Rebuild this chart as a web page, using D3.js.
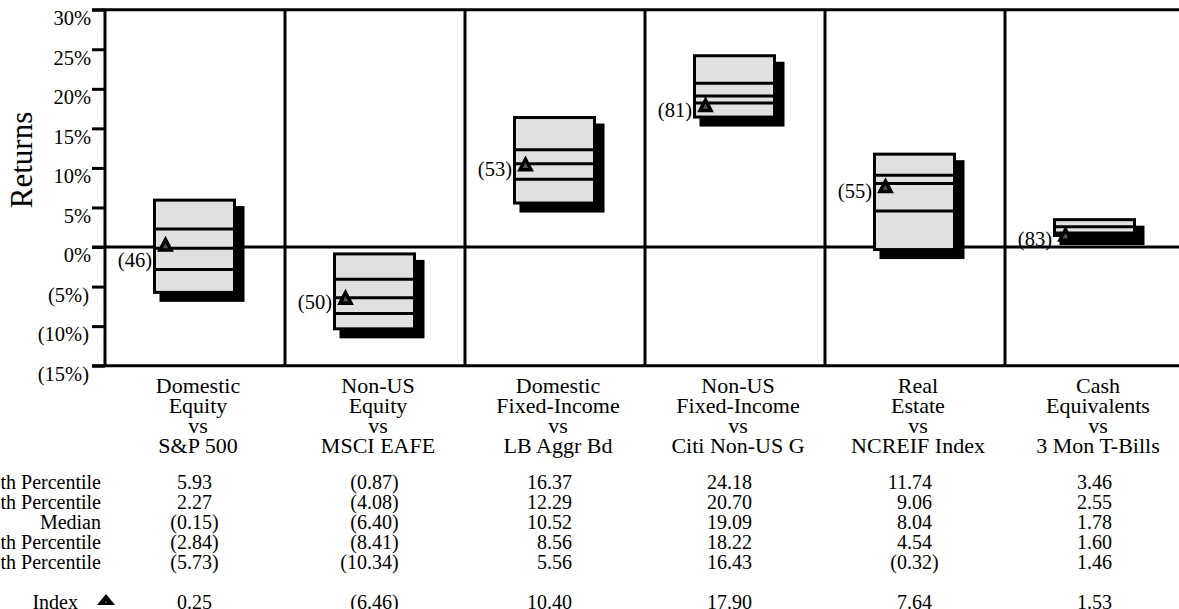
<!DOCTYPE html>
<html>
<head>
<meta charset="utf-8">
<script src="https://cdn.jsdelivr.net/npm/d3@7"></script>
<style>
  body { margin: 0; background: #fff; }
  svg { display: block; }
  text { font-family: "Liberation Serif", "Times New Roman", serif; fill: #000; }
</style>
</head>
<body>
<svg id="chart" width="1179" height="609"></svg>
<script>
// Asset classes and their benchmarks
const categories = ["Domestic Equity", "Non-US Equity", "Domestic Fixed-Income", "Non-US Fixed-Income", "Real Estate", "Cash Equivalents"];
const categoryLines = [["Domestic", "Equity"], ["Non-US", "Equity"], ["Domestic", "Fixed-Income"], ["Non-US", "Fixed-Income"], ["Real", "Estate"], ["Cash", "Equivalents"]];
const benchmarks = ["S&P 500", "MSCI EAFE", "LB Aggr Bd", "Citi Non-US G", "NCREIF Index", "3 Mon T-Bills"];

// Peer-group percentile returns (%)
const p10 = [5.93, -0.87, 16.37, 24.18, 11.74, 3.46];
const p25 = [2.27, -4.08, 12.29, 20.70, 9.06, 2.55];
const median = [-0.15, -6.40, 10.52, 19.09, 8.04, 1.78];
const p75 = [-2.84, -8.41, 8.56, 18.22, 4.54, 1.60];
const p90 = [-5.73, -10.34, 5.56, 16.43, -0.32, 1.46];

// Benchmark index returns (%) and their percentile ranks
const indexReturns = [0.25, -6.46, 10.40, 17.90, 7.64, 1.53];
const indexRanks = [46, 50, 53, 81, 55, 83];

const yTicks = [30, 25, 20, 15, 10, 5, 0, -5, -10, -15];
const rowLabels = ["10th Percentile", "25th Percentile", "Median", "75th Percentile", "90th Percentile"];
const rowSeries = [p10, p25, median, p75, p90];

const svg = d3.select("#chart");
const W = 1179;
const SERIF = "Liberation Serif, Times New Roman, serif";

const y = d3.scaleLinear().domain([-15, 30]).range([365.7, 9.7]);
const x = d3.scaleBand().domain(categories).range([105, 1185]).padding(0);

const fmtNum = v => d3.format(".2f")(Math.abs(v));
const fmtPct = v => v < 0 ? `(${Math.abs(v)}%)` : `${v}%`;

// ---- horizontal rules (top, zero, bottom) and y axis ----
const axis = d3.axisLeft(y).tickValues(yTicks).tickSize(13).tickPadding(0).tickFormat(fmtPct);
const gAxis = svg.append("g").attr("transform", "translate(105,0)").call(axis)
  .attr("font-family", SERIF);
gAxis.select(".domain").remove();
gAxis.selectAll(".tick line").attr("stroke", "#000").attr("stroke-width", 3);
gAxis.selectAll(".tick text")
  .attr("x", d => d < 0 ? -16 : -14)
  .attr("dy", "0.72em")
  .attr("font-size", 20.5);

svg.append("g").selectAll("line").data([30, 0, -15]).join("line")
  .attr("x1", 92).attr("x2", W)
  .attr("y1", d => y(d)).attr("y2", d => y(d))
  .attr("stroke", "#000").attr("stroke-width", 3);

// column dividers
svg.append("g").selectAll("line").data(categories).join("line")
  .attr("x1", d => x(d)).attr("x2", d => x(d))
  .attr("y1", y(30)).attr("y2", y(-15))
  .attr("stroke", "#000").attr("stroke-width", 3);

// axis title
svg.append("text")
  .attr("transform", "translate(32,160) rotate(-90)")
  .attr("text-anchor", "middle")
  .attr("font-size", 31)
  .text("Returns");

// ---- floating percentile boxes ----
const boxW = 80;
const boxes = svg.append("g").selectAll("g").data(categories).join("g");

boxes.each(function (c, i) {
  const g = d3.select(this);
  const left = x(c) + 49.5;
  const top = y(p10[i]);
  const bottom = y(p90[i]);

  // drop shadow
  g.append("rect")
    .attr("x", left + 5).attr("y", top + 6)
    .attr("width", boxW + 5).attr("height", bottom - top + 3.5)
    .attr("fill", "#000");

  g.append("rect")
    .attr("x", left).attr("y", top)
    .attr("width", boxW).attr("height", bottom - top)
    .attr("fill", "#e0e0e0").attr("stroke", "#000").attr("stroke-width", 3);

  g.selectAll("line.pct").data([p25[i], median[i], p75[i]]).join("line")
    .attr("class", "pct")
    .attr("x1", left).attr("x2", left + boxW)
    .attr("y1", d => y(d)).attr("y2", d => y(d))
    .attr("stroke", "#000").attr("stroke-width", 3);

  // index marker
  const ty = y(indexReturns[i]);
  const tx = left + 11;
  g.append("path")
    .attr("d", `M${tx - 5.5},${ty + 5}L${tx + 5.5},${ty + 5}L${tx},${ty - 5.5}Z`)
    .attr("fill", "#555").attr("stroke", "#000").attr("stroke-width", 3.5)
    .attr("stroke-linejoin", "miter");

  // rank label, kept clear of the zero line
  let ly = ty + 4;
  if (Math.abs(ly - y(0)) < 7) ly = y(0) + 13;
  g.append("text")
    .attr("x", left - 2.5).attr("y", ly)
    .attr("dy", "0.35em")
    .attr("text-anchor", "end")
    .attr("font-size", 20.5)
    .text(`(${indexRanks[i]})`);
});

// ---- category labels (one text block per column) ----
const labelLines = categories.map((c, i) => [categoryLines[i][0], categoryLines[i][1], "vs", benchmarks[i]]);
svg.append("g").selectAll("text").data(categories).join("text")
  .attr("text-anchor", "middle")
  .attr("font-size", 22)
  .each(function (c, i) {
    const cx = x(c) + x.bandwidth() / 2 + 3;
    d3.select(this).selectAll("tspan").data(labelLines[i]).join("tspan")
      .attr("x", cx)
      .attr("y", (d, k) => 385 + k * 20)
      .attr("dy", "0.35em")
      .text(d => d);
  });

// ---- statistics table ----
const rowY = [482, 502, 522, 542, 562];
const numX = c => x(c) + 107;
const TFS = 20;

svg.append("g").selectAll("text").data(rowLabels).join("text")
  .attr("x", 101).attr("y", (d, k) => rowY[k])
  .attr("dy", "0.35em").attr("text-anchor", "end").attr("font-size", TFS)
  .text(d => d);

function numberCell(g, c, v, yy) {
  g.append("text")
    .attr("x", numX(c)).attr("y", yy).attr("dy", "0.35em")
    .attr("text-anchor", "end").attr("font-size", TFS)
    .text(v < 0 ? "(" + fmtNum(v) : fmtNum(v));
  if (v < 0) {
    g.append("text")
      .attr("x", numX(c)).attr("y", yy).attr("dy", "0.35em")
      .attr("text-anchor", "start").attr("font-size", TFS)
      .text(")");
  }
}

const gTable = svg.append("g");
rowSeries.forEach((series, k) => {
  categories.forEach((c, i) => numberCell(gTable, c, series[i], rowY[k]));
});

// index row
const indexY = 602;
gTable.append("text")
  .attr("x", 78).attr("y", indexY).attr("dy", "0.35em")
  .attr("text-anchor", "end").attr("font-size", TFS)
  .text("Index");
gTable.append("path")
  .attr("d", `M97,${indexY + 3}L115,${indexY + 3}L106,${indexY - 8}Z`)
  .attr("fill", "#000");
gTable.append("path")
  .attr("d", `M105,${indexY + 1}L107,${indexY + 1}L106,${indexY - 1}Z`)
  .attr("fill", "#777");
categories.forEach((c, i) => numberCell(gTable, c, indexReturns[i], indexY));
</script>
</body>
</html>
